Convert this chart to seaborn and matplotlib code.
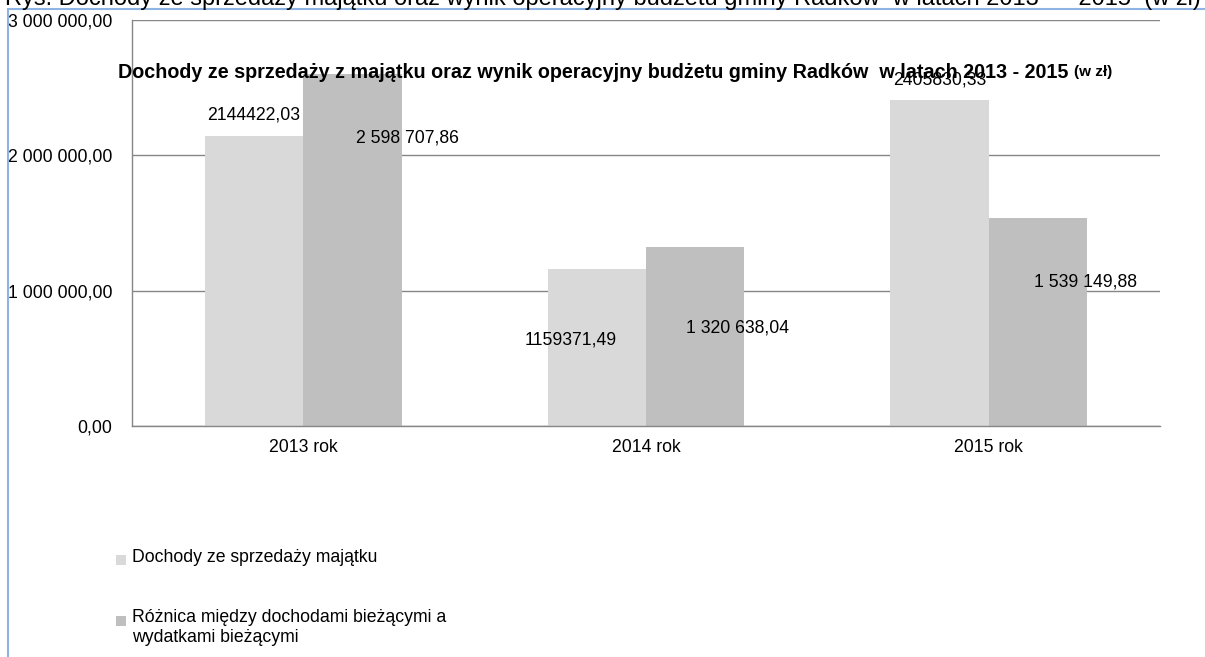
import matplotlib
matplotlib.use("Agg")
import matplotlib.pyplot as plt
import matplotlib.ticker as mticker
from matplotlib.patches import Rectangle
from matplotlib.lines import Line2D
import seaborn as sns
import pandas as pd

categories = ["2013 rok", "2014 rok", "2015 rok"]
series_names = ["Dochody ze sprzedaży majątku",
                "Różnica między dochodami bieżącymi a\nwydatkami bieżącymi"]
sales = [2144422.03, 1159371.49, 2405830.33]
operating = [2598707.86, 1320638.04, 1539149.88]
sales_labels = ["2144422,03", "1159371,49", "2405830,33"]
operating_labels = ["2 598 707,86", "1 320 638,04", "1 539 149,88"]
yticks = [0, 1000000, 2000000, 3000000]

colors = ["#D9D9D9", "#BFBFBF"]

sns.set_theme(style="white")
plt.rcParams["font.family"] = ["Liberation Sans Narrow", "Liberation Sans", "DejaVu Sans"]
plt.rcParams["text.color"] = "black"

df = pd.DataFrame({
    "rok": categories * 2,
    "value": sales + operating,
    "series": [series_names[0]] * 3 + [series_names[1]] * 3,
})

W, H = 1205, 657
fig = plt.figure(figsize=(W / 100, H / 100), dpi=100)
ax = fig.add_axes([132 / W, 1 - 426 / H, (1160 - 132) / W, (426 - 20) / H])

sns.barplot(data=df, x="rok", y="value", hue="series", palette=colors,
            saturation=1, width=0.573, legend=False, ax=ax, errorbar=None,
            edgecolor="none", linewidth=0)

ax.set_ylim(0, 3000000)
ax.set_xlim(-0.5, 2.5)
ax.set_yticks(yticks)
ax.yaxis.set_major_formatter(mticker.FuncFormatter(
    lambda v, p: f"{v:,.2f}".replace(",", " ").replace(".", ",")))
ax.grid(axis="y", color="#868686", linewidth=1)
ax.set_axisbelow(True)
for s in ["top", "right"]:
    ax.spines[s].set_visible(False)
for s in ["left", "bottom"]:
    ax.spines[s].set_color("#868686")
    ax.spines[s].set_linewidth(1)
ax.set_xlabel("")
ax.set_ylabel("")
FS = 12.7
ax.tick_params(axis="y", length=0, pad=14, labelsize=FS, labelcolor="black")
ax.tick_params(axis="x", which="major", length=0, pad=9, labelsize=FS, labelcolor="black")
ax.set_xticks([-0.5, 0.5, 1.5, 2.5], minor=True)
ax.tick_params(axis="x", which="minor", length=5, color="#868686", width=1, direction="out")

# data labels: offsets in pixels from the top-centre of each bar
light_off = [(-1, 21), (-26, -71), (0, 20)]
dark_off = [(55, -64), (42, -81), (48, -64)]
bw = 0.573 / 2
for i in range(3):
    ax.annotate(sales_labels[i], (i - bw / 2, sales[i]), xytext=light_off[i],
                textcoords="offset pixels", ha="center", va="center", fontsize=FS,
                color="black")
    ax.annotate(operating_labels[i], (i + bw / 2, operating[i]), xytext=dark_off[i],
                textcoords="offset pixels", ha="center", va="center", fontsize=FS,
                color="black")

# inner chart title
t1 = fig.text(118 / W, 1 - 72 / H,
              "Dochody ze sprzedaży z majątku oraz wynik operacyjny budżetu gminy Radków  w latach 2013 - 2015 ",
              fontsize=14.2, fontweight="bold", ha="left", va="center", zorder=1)
fig.canvas.draw()
bb = t1.get_window_extent()
fig.text(bb.x1 / W, 1 - 72 / H, "(w zł)", fontsize=11, fontweight="bold",
         ha="left", va="center")

# outer caption (cut off at top)
fig.text(5 / W, 1 - 5 / H,
         "Rys. Dochody ze sprzedaży majątku oraz wynik operacyjny budżetu gminy Radków  w latach 2013  –  2015  (w zł)",
         fontsize=17, ha="left", va="baseline")

# blue frame
fig.add_artist(Line2D([8 / W, 8 / W], [0, 1 - 9 / H], transform=fig.transFigure,
                      color="#8DB4E2", linewidth=1.5))
fig.add_artist(Line2D([8 / W, 1], [1 - 9 / H, 1 - 9 / H], transform=fig.transFigure,
                      color="#8DB4E2", linewidth=1.5))

# legend
sq_y = [560, 621]
txt_y = [558, 618]
for k in range(2):
    fig.add_artist(Rectangle((116 / W, 1 - (sq_y[k] + 5) / H), 10 / W, 10 / H,
                             transform=fig.transFigure, color=colors[k], linewidth=0))
    fig.text(132 / W, 1 - (txt_y[k] - 9) / H, series_names[k], fontsize=FS,
             ha="left", va="top", linespacing=1.25)

fig.savefig("out.png", dpi=100)
